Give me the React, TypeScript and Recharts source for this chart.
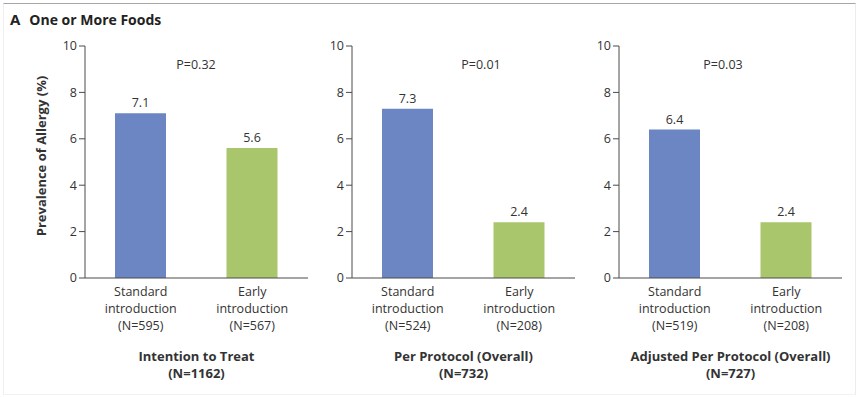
import { Bar, BarChart, Cell, LabelList, XAxis, YAxis } from 'recharts';

const groups = ['Standard', 'Early'];
const panelTitles = ['Intention to Treat', 'Per Protocol (Overall)', 'Adjusted Per Protocol (Overall)'];
const panelTotals = [1162, 732, 727];
const standardValues = [7.1, 7.3, 6.4];
const earlyValues = [5.6, 2.4, 2.4];
const standardN = [595, 524, 519];
const earlyN = [567, 208, 208];
const pValues = ['P=0.32', 'P=0.01', 'P=0.03'];
const yTicks = [0, 2, 4, 6, 8, 10];

const FONT = '"Open Sans", "Noto Sans", sans-serif';
const INK = '#333';
const AXIS = '#4a4a4a';
const BAR_COLORS = ['#6b86c3', '#a9c66c'];

// layout: y-axis line of each panel sits at these x positions
const AXIS_X = [85, 352, 619];
const P_CENTER = [196, 481, 723];
const Y_AXIS_W = 60;
const PLOT_W = 223;

function makeTick(ns: number[]) {
  return function CategoryTick({ x, y, payload }: any) {
    const n = ns[payload.index];
    return (
      <text x={x} y={y} textAnchor="middle" fill={INK} fontSize={12.5} fontFamily={FONT}>
        <tspan x={x} dy={18}>{payload.value}</tspan>
        <tspan x={x} dy={17}>introduction</tspan>
        <tspan x={x} dy={17}>{`(N=${n})`}</tspan>
      </text>
    );
  };
}

function Panel({ i }: { i: number }) {
  const data = groups.map((g, k) => ({
    group: g,
    value: k === 0 ? standardValues[i] : earlyValues[i],
  }));
  const ns = [standardN[i], earlyN[i]];
  const title = panelTitles[i];
  const total = panelTotals[i];
  return (
    <div style={{ position: 'absolute', left: AXIS_X[i] - Y_AXIS_W, top: 0 }}>
      <BarChart
        width={Y_AXIS_W + PLOT_W + 10}
        height={397}
        data={data}
        margin={{ top: 46, right: 10, bottom: 0, left: 0 }}
      >
        <XAxis
          dataKey="group"
          height={119}
          tickLine={false}
          tickSize={0}
          tickMargin={0}
          axisLine={{ stroke: AXIS }}
          interval={0}
          tick={makeTick(ns)}
          label={{
            content: ({ viewBox }: any) => (
              <text
                x={viewBox.x + viewBox.width / 2}
                y={viewBox.y}
                textAnchor="middle"
                fill={INK}
                fontSize={13}
                fontWeight={700}
                fontFamily={FONT}
              >
                <tspan x={viewBox.x + viewBox.width / 2} dy={83}>{title}</tspan>
                <tspan x={viewBox.x + viewBox.width / 2} dy={17}>{`(N=${total})`}</tspan>
              </text>
            ),
          }}
        />
        <YAxis
          width={Y_AXIS_W}
          domain={[0, 10]}
          ticks={yTicks}
          tickSize={6}
          tickMargin={2}
          axisLine={{ stroke: AXIS }}
          tickLine={{ stroke: AXIS }}
          tick={{ fill: INK, fontSize: 12.5, fontFamily: FONT }}
          label={
            i === 0
              ? {
                  content: ({ viewBox }: any) => {
                    const cx = viewBox.x + 21;
                    const cy = viewBox.y + viewBox.height / 2 - 6;
                    return (
                      <text
                        x={cx}
                        y={cy}
                        transform={`rotate(-90, ${cx}, ${cy})`}
                        textAnchor="middle"
                        fill={INK}
                        fontSize={13}
                        fontWeight={700}
                        fontFamily={FONT}
                      >
                        Prevalence of Allergy (%)
                      </text>
                    );
                  },
                }
              : undefined
          }
        />
        <Bar dataKey="value" barSize={51} isAnimationActive={false}>
          {data.map((_, k) => (
            <Cell key={k} fill={BAR_COLORS[k]} />
          ))}
          <LabelList
            dataKey="value"
            position="top"
            offset={6}
            fill={INK}
            fontSize={12.5}
            fontFamily={FONT}
            formatter={(v: any) => Number(v).toFixed(1)}
          />
        </Bar>
      </BarChart>
      <div
        style={{
          position: 'absolute',
          top: 56,
          left: P_CENTER[i] - AXIS_X[i] + Y_AXIS_W - 40,
          width: 80,
          textAlign: 'center',
          fontFamily: FONT,
          fontSize: 12.5,
          color: INK,
          lineHeight: '18px',
        }}
      >
        {pValues[i]}
      </div>
    </div>
  );
}

export default function App() {
  return (
    <div
      style={{
        position: 'absolute',
        left: 0,
        top: 0,
        width: 859,
        height: 397,
        background: '#fff',
        overflow: 'hidden',
      }}
    >
      <div
        style={{
          position: 'absolute',
          left: 3,
          top: 3,
          width: 851,
          height: 390,
          borderTop: '1.5px solid #a6a6a6',
          borderLeft: '1px solid #f0f0f0',
          borderRight: '1px solid #ececec',
          borderBottom: '1px solid #f2f2f2',
        }}
      />
      <div
        style={{
          position: 'absolute',
          left: 10,
          top: 9,
          fontFamily: FONT,
          fontSize: 14,
          fontWeight: 700,
          color: '#222',
          whiteSpace: 'nowrap',
          lineHeight: '20px',
        }}
      >
        <span style={{ fontSize: 15, marginRight: 9 }}>A</span>One or More Foods
      </div>
      {panelTitles.map((_, i) => (
        <Panel key={i} i={i} />
      ))}
    </div>
  );
}
